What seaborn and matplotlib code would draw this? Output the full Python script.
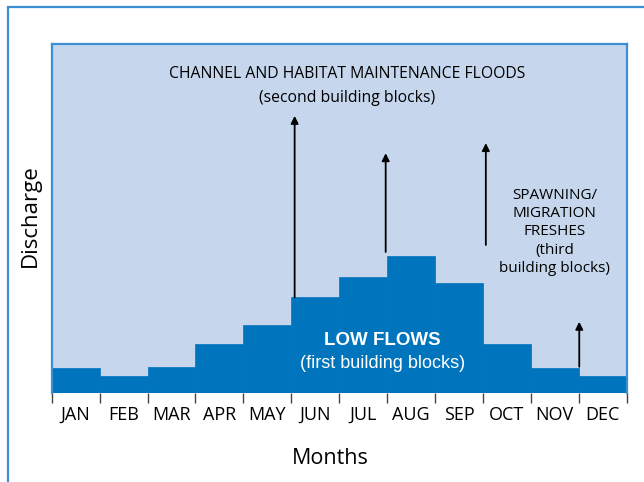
import matplotlib
matplotlib.use('Agg')
import matplotlib.pyplot as plt
import seaborn as sns
import pandas as pd
from matplotlib.patches import Rectangle

# Typical monthly discharge (low flows), read off the step shape
months = ["JAN", "FEB", "MAR", "APR", "MAY", "JUN",
          "JUL", "AUG", "SEP", "OCT", "NOV", "DEC"]
low_flow = [7.3, 5.0, 7.6, 14.2, 19.6, 27.5, 33.4, 39.3, 31.5, 14.2, 7.3, 5.0]

# flood / freshes arrows: x position (category units), start and tip height
arrow_x = [4.57, 6.47, 8.56, 10.51]
arrow_start = [27.5, 40.5, 42.5, 7.6]
arrow_tip = [79.5, 68.8, 71.7, 20.5]

BAR_BLUE = "#0075be"
BG_BLUE = "#c6d7ed"
EDGE_BLUE = "#3b8fd4"
FONT = ["Open Sans", "DejaVu Sans"]


def plot_graph(fig_location: str = "out.png"):
    sns.set_style("white")
    plt.rcParams['font.family'] = FONT
    plt.rcParams['text.color'] = "black"
    plt.rcParams['axes.labelcolor'] = "black"
    plt.rcParams['xtick.color'] = "black"

    df = pd.DataFrame({"month": months, "discharge": low_flow})

    fig = plt.figure(figsize=(6.44, 4.82), dpi=100)
    # thin blue frame around the panel
    fig.patches.append(Rectangle((8.3 / 644, -0.01), 1.0, 1 - 6.7 / 482 + 0.01,
                                 transform=fig.transFigure, fill=False,
                                 edgecolor=EDGE_BLUE, lw=1.6, zorder=0))
    ax = fig.add_axes([51.7 / 644, 1 - 393.3 / 482, 575 / 644, 349 / 482])
    ax.set_facecolor(BG_BLUE)

    sns.barplot(data=df, x="month", y="discharge", color=BAR_BLUE, width=1.0,
                saturation=1, edgecolor=BAR_BLUE, linewidth=0.5, ax=ax)
    ax.set_xlim(-0.5, 11.5)
    ax.set_ylim(0, 100)

    for side in ["left", "right", "top"]:
        ax.spines[side].set_color(EDGE_BLUE)
        ax.spines[side].set_linewidth(1.6)
    ax.spines["bottom"].set_visible(False)

    # month labels centred, boundary ticks between them
    ax.set_xticks(range(12))
    ax.set_xticklabels(months, fontsize=13)
    ax.tick_params(axis="x", which="major", length=0, pad=9)
    ax.set_xticks([i - 0.5 for i in range(13)], minor=True)
    ax.tick_params(axis="x", which="minor", length=7.5, width=1.0, color="#444444",
                   bottom=True)
    ax.set_yticks([])

    ax.set_xlabel("Months", fontsize=15.5)
    ax.xaxis.set_label_coords(0.484, -0.157)
    ax.set_ylabel("Discharge", fontsize=16)
    ax.yaxis.set_label_coords(-0.018, 0.5 + 3 / 349)

    for x, y0, y1 in zip(arrow_x, arrow_start, arrow_tip):
        ax.annotate("", xy=(x, y1), xytext=(x, y0),
                    arrowprops=dict(arrowstyle="-|>", color="black", lw=1.3,
                                    mutation_scale=11, shrinkA=0, shrinkB=0))

    ax.text(5.66, 91.5, "CHANNEL AND HABITAT MAINTENANCE FLOODS",
            ha="center", va="center", fontsize=11.3)
    ax.text(5.66, 84.6, "(second building blocks)",
            ha="center", va="center", fontsize=11.3)
    ax.text(10.0, 46.3, "SPAWNING/\nMIGRATION\nFRESHES\n(third\nbuilding blocks)",
            ha="center", va="center", fontsize=11, linespacing=1.3)

    ax.text(6.4, 15.0, "LOW FLOWS", ha="center", va="center", color="white",
            fontsize=13.5, fontweight="bold", family=["Liberation Sans", "DejaVu Sans"])
    ax.text(6.4, 8.5, "(first building blocks)", ha="center", va="center",
            color="white", fontsize=13, family=["Liberation Sans", "DejaVu Sans"])

    plt.savefig(fig_location, dpi=100)


if __name__ == "__main__":
    plot_graph("out.png")
